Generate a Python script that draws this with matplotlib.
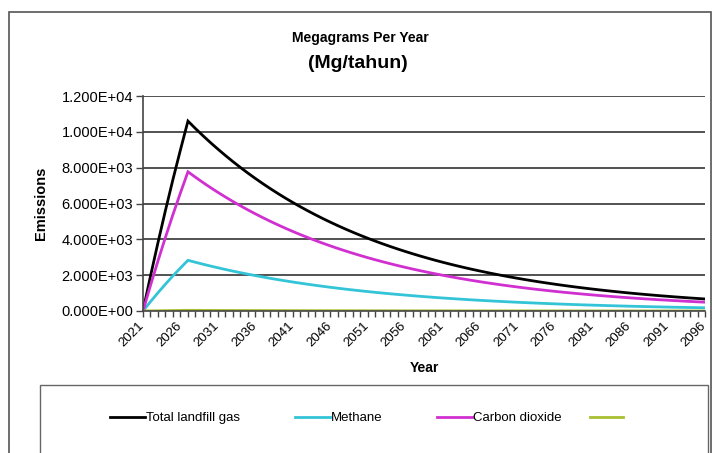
import numpy as np
import matplotlib
matplotlib.use("Agg")
import matplotlib.pyplot as plt
import matplotlib.transforms as mtransforms
from matplotlib.patches import Rectangle
from matplotlib.ticker import FuncFormatter, MultipleLocator

plt.rcParams['font.family'] = ['Liberation Sans', 'DejaVu Sans']

years = list(range(2021, 2097))

total = [0, 1950, 3820, 5620, 7350, 9000, 10600,
         10184, 9785, 9401, 9033, 8679, 8338, 8011, 7697, 7396, 7106,
         6827, 6560, 6302, 6055, 5818, 5590, 5371, 5160, 4958, 4764,
         4577, 4397, 4225, 4059, 3900, 3747, 3600, 3459, 3324, 3193,
         3068, 2948, 2832, 2721, 2614, 2512, 2413, 2319, 2228, 2141,
         2057, 1976, 1899, 1824, 1753, 1684, 1618, 1555, 1494, 1435,
         1379, 1325, 1273, 1223, 1175, 1129, 1085, 1042, 1001, 962,
         924, 888, 853, 820, 788, 757, 727, 699, 671]

methane = [0, 521, 1020, 1501, 1962, 2403, 2830,
           2719, 2613, 2510, 2412, 2317, 2226, 2139, 2055, 1975, 1897,
           1823, 1752, 1683, 1617, 1553, 1493, 1434, 1378, 1324, 1272,
           1222, 1174, 1128, 1084, 1041, 1000, 961, 924, 888, 853,
           819, 787, 756, 727, 698, 671, 644, 619, 595, 572,
           549, 528, 507, 487, 468, 450, 432, 415, 399, 383,
           368, 354, 340, 327, 314, 301, 290, 278, 267, 257,
           247, 237, 228, 219, 210, 202, 194, 187, 179]

carbon_dioxide = [0, 1429, 2800, 4119, 5388, 6597, 7770,
                  7465, 7172, 6891, 6621, 6362, 6112, 5872, 5642, 5421, 5209,
                  5004, 4808, 4619, 4438, 4265, 4097, 3937, 3782, 3634, 3492,
                  3355, 3223, 3097, 2975, 2859, 2747, 2639, 2535, 2436, 2340,
                  2249, 2161, 2076, 1994, 1916, 1841, 1769, 1700, 1633, 1569,
                  1508, 1448, 1392, 1337, 1285, 1234, 1186, 1140, 1095, 1052,
                  1011, 971, 933, 896, 861, 828, 795, 764, 734, 705,
                  677, 651, 625, 601, 578, 555, 533, 512, 492]

nmoc = [0, 7, 13, 20, 26, 32, 37,
        36, 34, 33, 32, 30, 29, 28, 27, 26, 25,
        24, 23, 22, 21, 20, 20, 19, 18, 17, 17,
        16, 15, 15, 14, 14, 13, 13, 12, 12, 11,
        11, 10, 10, 10, 9, 9, 8, 8, 8, 7,
        7, 7, 7, 6, 6, 6, 6, 5, 5, 5,
        5, 5, 4, 4, 4, 4, 4, 4, 4, 3,
        3, 3, 3, 3, 3, 3, 3, 2, 2]

labels = ['Total landfill gas', 'Methane', 'Carbon dioxide', '']
colors = ['#000000', '#33c4d8', '#d030d0', '#a8c030']

W, H = 712, 453
fig = plt.figure(figsize=(W / 100, H / 100), dpi=100)

# outer chart border and legend box
fig.patches.append(Rectangle((9 / W, -0.05), 702 / W, 1.05 - 12 / H,
                             transform=fig.transFigure, fill=False,
                             edgecolor='#555555', lw=1.2))
fig.patches.append(Rectangle((40 / W, -0.05), 668 / W, 0.05 + (H - 385) / H,
                             transform=fig.transFigure, fill=False,
                             edgecolor='#666666', lw=1.0))

ax = fig.add_axes([143 / W, 1 - 311 / H, 562 / W, 215 / H])

lines = []
for series, c in zip([total, methane, carbon_dioxide, nmoc], colors):
    ln, = ax.plot(years, series, color=c, lw=2.0, solid_joinstyle='miter')
    lines.append(ln)

ax.set_xlim(2021, 2096)
ax.set_ylim(0, 12000)
ax.yaxis.set_major_locator(MultipleLocator(2000))
ax.yaxis.set_major_formatter(FuncFormatter(lambda v, p: '%.3E' % v))
ax.set_xticks(years[::5])
ax.xaxis.set_minor_locator(MultipleLocator(1))
ax.tick_params(axis='x', which='both', direction='out', length=4, width=1,
               color='#444444', labelsize=9.5, pad=2)
ax.tick_params(axis='y', direction='out', length=5, width=1,
               color='#444444', labelsize=10.5, pad=2)
shift = mtransforms.ScaledTranslation(-5 / 100, 0, fig.dpi_scale_trans)
for t in ax.get_xticklabels():
    t.set_rotation(45)
    t.set_ha('right')
    t.set_va('top')
    t.set_rotation_mode('anchor')
    t.set_transform(t.get_transform() + shift)

ax.grid(axis='y', color='#444444', lw=1.3)
for s in ['top', 'right']:
    ax.spines[s].set_visible(False)
for s in ['left', 'bottom']:
    ax.spines[s].set_color('#444444')
    ax.spines[s].set_linewidth(1.2)
ax.set_axisbelow(True)

ax.set_ylabel('Emissions', fontsize=10.5, fontweight='bold', labelpad=10)
ax.set_xlabel('Year', fontsize=10, fontweight='bold', labelpad=9)

fig.text(360 / W, 1 - 38 / H, 'Megagrams Per Year', ha='center', va='center',
         fontsize=10, fontweight='bold')
fig.text(358 / W, 1 - 64 / H, '(Mg/tahun)', ha='center', va='center',
         fontsize=14, fontweight='bold')

leg1 = fig.legend(lines[:3], labels[:3], loc='center',
                  bbox_to_anchor=(336 / W, 1 - 418 / H),
                  ncol=3, frameon=False, fontsize=9.5, handlelength=2.65,
                  handletextpad=0.08, columnspacing=4.13)
fig.legend(lines[3:], labels[3:], loc='center left',
           bbox_to_anchor=(590 / W, 1 - 418 / H), frameon=False,
           fontsize=9.5, handlelength=2.5, handletextpad=0.0,
           borderpad=0, borderaxespad=0)

fig.savefig('out.png', dpi=100)
